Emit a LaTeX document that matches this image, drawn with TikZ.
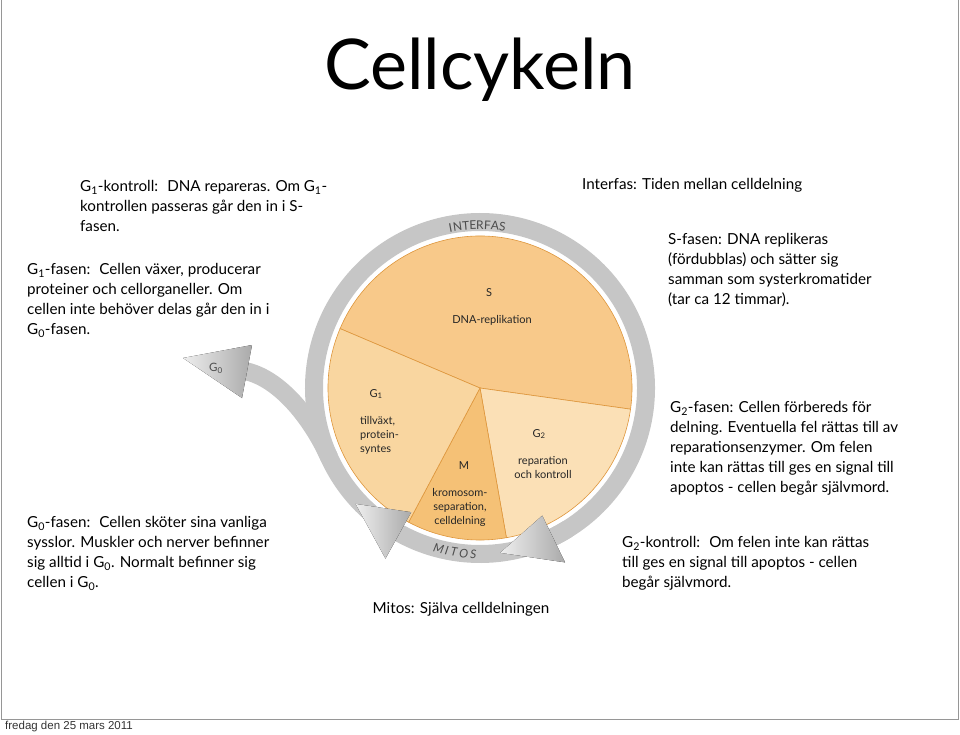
\documentclass[tikz,border=0pt]{standalone}
\usepackage{fontspec}
\setmainfont{Lato}
\newfontfamily\datefont{Liberation Sans}
\usetikzlibrary{positioning}
\definecolor{sphase}{RGB}{248,201,138}
\definecolor{gonephase}{RGB}{249,214,160}
\definecolor{mphase}{RGB}{245,193,118}
\definecolor{gtwophase}{RGB}{251,224,182}
\definecolor{pieedge}{RGB}{222,150,60}
\definecolor{ringgray}{RGB}{198,198,198}
\definecolor{headlight}{RGB}{238,238,238}
\definecolor{headdark}{RGB}{170,170,170}
\definecolor{framegray}{RGB}{150,150,150}

\begin{document}
\begin{tikzpicture}[
    x=1pt, y=1pt,
    sidetext/.style={
      anchor=north west, align=left, inner sep=0pt,
      font=\fontsize{15.2}{20}\selectfont
    },
    pielabel/.style={
      align=center, inner sep=0pt,
      font=\fontsize{11}{14}\selectfont, text=black!85
    },
    ringlabel/.style={
      inner sep=0pt, font=\fontsize{12}{13}\selectfont, text=black!70
    },
    sector/.style={draw=pieedge, line width=0.6pt},
    ring/.style={line width=18pt, ringgray},
    head/.style={left color=headlight, right color=headdark, draw=none},
]
    \useasboundingbox (0,0) rectangle (960,-734);

    % Frame
    \draw[framegray, line width=1pt] (1,0) -- (1,-719) -- (958,-719) -- (958,0);
    \node[anchor=west, inner sep=0pt, font=\datefont\fontsize{11.5}{12}\selectfont,
      text=black!80] (date) at (5,-727) {fredag den 25 mars 2011};

    % Title
    \node[inner sep=0pt, font=\fontsize{70}{72}\selectfont] (title) at (480,-70)
      {Cellcykeln};

    \begin{scope}[shift={(480,-388)}]
      % Pie
      \filldraw[sector, fill=sphase] (0,0) -- (157:152)
        arc[start angle=157, end angle=-8, radius=152] -- cycle;
      \filldraw[sector, fill=gtwophase] (0,0) -- (-8:152)
        arc[start angle=-8, end angle=-80, radius=152] -- cycle;
      \filldraw[sector, fill=mphase] (0,0) -- (-80:152)
        arc[start angle=-80, end angle=-118, radius=152] -- cycle;
      \filldraw[sector, fill=gonephase] (0,0) -- (-118:152)
        arc[start angle=-118, end angle=-203, radius=152] -- cycle;

      % Ring
      \draw[ring] (232:166) arc[start angle=232, end angle=-66, radius=166];
      \draw[ring] (-58:166) arc[start angle=-58, end angle=-121, radius=166];
      \draw[ring] (-155:166) .. controls (-169,-29) and (-201,10) .. (-235,17);

      % Arrow heads
      \fill[head] (-64:142) -- (-64:194) -- (-83:166) -- cycle;
      \fill[head] (-119:142) -- (-119:195) -- (-137:170) -- cycle;
      \fill[head] (-228,43) -- (-238,-10) -- (-297,30) -- cycle;

      \node[ringlabel, font=\fontsize{11.5}{12}\selectfont] (gzero) at (-264,20)
        {G\textsubscript{0}};

      % INTERFAS / MITOS along the ring
      \foreach \ch/\ang [count=\i] in {I/100.4, N/97.9, T/95.0, E/92.5,
                                      R/90.0, F/87.4, A/84.7, S/82.1} {
        \node[ringlabel, rotate=\ang-90] (interfas\i) at (\ang:163) {\ch};
      }
      \foreach \ch/\ang [count=\i] in {M/-104.4, I/-101.5, T/-99.0, O/-95.6, S/-92.3} {
        \node[ringlabel, font=\fontsize{12}{13}\selectfont\itshape,
          rotate=\ang+90] (mitos\i) at (\ang:166) {\ch};
      }
    \end{scope}

    % Labels in the pie
    \node[pielabel] (sname) at (489,-293) {S};
    \node[pielabel] (stext) at (492,-320) {DNA-replikation};
    \node[pielabel] (gonename) at (376,-394) {G\textsubscript{1}};
    \node[pielabel, anchor=north west, align=left] (gonetext) at (360,-416)
      {tillväxt,\\protein-\\syntes};
    \node[pielabel] (mname) at (464,-466) {M};
    \node[pielabel] (mtext) at (460,-507) {kromosom-\\separation,\\celldelning};
    \node[pielabel] (gtwoname) at (539,-434) {G\textsubscript{2}};
    \node[pielabel] (gtwotext) at (543,-468) {reparation\\och kontroll};

    % Side texts
    \node[sidetext] (gonectrl) at (80,-180)
      {G\textsubscript{1}-kontroll:~ DNA repareras. Om G\textsubscript{1}-\\
       kontrollen passeras går den in i S-\\fasen.};
    \node[sidetext] (gonefas) at (27,-263)
      {G\textsubscript{1}-fasen:~ Cellen växer, producerar\\
       proteiner och cellorganeller. Om\\
       cellen inte behöver delas går den in i\\
       G\textsubscript{0}-fasen.};
    \node[sidetext] (gzerofas) at (27,-516)
      {G\textsubscript{0}-fasen:~ Cellen sköter sina vanliga\\
       sysslor. Muskler och nerver befinner\\
       sig alltid i G\textsubscript{0}. Normalt befinner sig\\
       cellen i G\textsubscript{0}.};
    \node[sidetext] (interfas) at (582,-178) {Interfas: Tiden mellan celldelning};
    \node[sidetext] (sfas) at (668,-233)
      {S-fasen: DNA replikeras\\
       (fördubblas) och sätter sig\\
       samman som systerkromatider\\
       (tar ca 12 timmar).};
    \node[sidetext] (gtwofas) at (670,-401)
      {G\textsubscript{2}-fasen: Cellen förbereds för\\
       delning. Eventuella fel rättas till av\\
       reparationsenzymer. Om felen\\
       inte kan rättas till ges en signal till\\
       apoptos - cellen begår självmord.};
    \node[sidetext] (gtwoctrl) at (622,-536)
      {G\textsubscript{2}-kontroll:~ Om felen inte kan rättas\\
       till ges en signal till apoptos - cellen\\
       begår självmord.};
    \node[sidetext, anchor=center] (mitos) at (461,-609) {Mitos: Själva celldelningen};
\end{tikzpicture}
\end{document}
